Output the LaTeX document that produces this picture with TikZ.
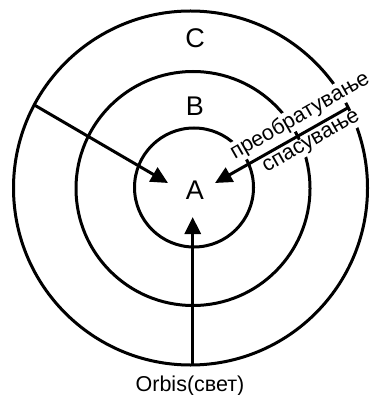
\documentclass[tikz,border=0pt]{standalone}
\usepackage{fontspec}
\setmainfont{Liberation Sans}
\usetikzlibrary{arrows.meta}
\begin{document}
\begin{tikzpicture}[x=1pt,y=-1pt,
  ring/.style={circle,draw,line width=3pt,inner sep=0pt,outer sep=0pt},
  arr/.style={line width=3pt,-{Triangle[length=17pt,width=16pt]}},
  big/.style={font=\fontsize{27}{30}\selectfont},
  lbl/.style={font=\fontsize{21.5}{24}\selectfont,fill=white,inner sep=1pt},
  bot/.style={font=\fontsize{21.5}{24}\selectfont}]
\useasboundingbox (0,0) rectangle (369,395);
\node[ring,minimum size=354pt] (C) at (190.5,188) {};
\node[ring,minimum size=234pt] (B) at (193,188.5) {};
\node[ring,minimum size=119pt] (A) at (194,187.5) {};
\node[big] (lc) at (195,38) {C};
\node[big] (lb) at (195,106) {B};
\node[big] (la) at (195,190) {A};
\coordinate (tipL) at (168,183);
\coordinate (tipR) at (215,183);
\coordinate (tipB) at (192.7,217);
\node[lbl,rotate=29.7] (t1) at (300,116) {преобратување};
\node[lbl,rotate=29.7] (t2) at (312,143) {спасување};
\node[bot] (orb) at (190,386) {Orbis(свет)};
\draw[arr] (C.152.5) -- (tipL);
\draw[arr] (C.27.2) -- (tipR);
\draw[arr] (tipB |- C.south) -- (tipB);
\end{tikzpicture}
\end{document}
